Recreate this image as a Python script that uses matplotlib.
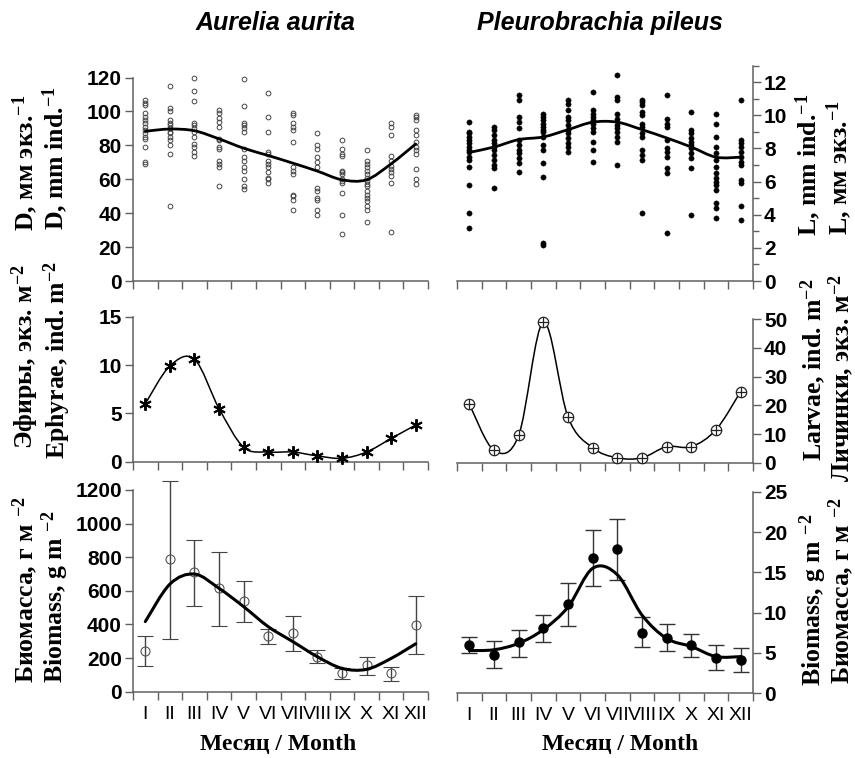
import matplotlib
matplotlib.use("Agg")
import matplotlib.pyplot as plt
from matplotlib.path import Path
from matplotlib.patches import PathPatch
from matplotlib.ticker import MultipleLocator

plt.rcParams['mathtext.fontset'] = 'custom'
plt.rcParams['mathtext.rm'] = 'Liberation Serif:bold'
plt.rcParams['mathtext.default'] = 'rm'

# ---------------- data ----------------
months = ["I", "II", "III", "IV", "V", "VI", "VII", "VIII", "IX", "X", "XI", "XII"]

# Aurelia aurita, diameter D (mm) - individual measurements per month
aurelia_D = [
    [107, 105, 104, 99, 97, 95, 93, 91, 89, 87, 85, 84, 79, 70, 69],
    [115, 102, 100, 95, 93, 92, 90, 88, 87, 85, 83, 80, 75, 44],
    [120, 112, 106, 93, 92, 90, 88, 85, 81, 79, 76, 74],
    [101, 99, 96, 94, 91, 84, 83, 79, 78, 71, 69, 67, 56],
    [119, 103, 93, 92, 90, 88, 78, 73, 71, 67, 65, 60, 56, 54],
    [111, 97, 88, 76, 75, 71, 69, 67, 64, 61, 60, 58],
    [99, 98, 93, 91, 89, 82, 67, 65, 63, 51, 50, 48, 42],
    [87, 80, 78, 73, 70, 67, 55, 53, 49, 48, 42, 39],
    [83, 78, 75, 74, 65, 64, 63, 60, 59, 58, 52, 39, 28],
    [77, 71, 69, 67, 65, 63, 61, 59, 57, 56, 53, 51, 49, 47, 44, 42, 35],
    [93, 91, 86, 74, 71, 68, 66, 64, 62, 58, 29],
    [98, 97, 95, 89, 86, 82, 79, 77, 75, 66, 60, 57],
]
aurelia_D_trend = [88.3, 89.6, 88.6, 83.8, 78.3, 74.0, 69.5, 64.8, 59.7, 59.7, 69.1, 80.8]

# Pleurobrachia pileus, length L (mm)
pleuro_L = [
    [9.6, 9.0, 8.9, 8.7, 8.5, 8.3, 8.1, 7.9, 7.8, 7.5, 7.3, 6.9, 5.8, 4.1, 3.2],
    [9.3, 9.1, 8.8, 8.5, 8.3, 8.1, 7.9, 7.6, 7.3, 7.0, 6.8, 5.6],
    [11.2, 10.9, 9.9, 9.6, 9.2, 8.5, 8.2, 7.9, 7.7, 7.4, 7.1, 6.6],
    [10.1, 9.9, 9.7, 9.5, 9.3, 9.1, 9.0, 8.7, 8.2, 7.9, 7.1, 6.3, 2.3, 2.2],
    [10.9, 10.7, 10.3, 9.9, 9.7, 9.4, 9.1, 8.9, 8.6, 8.3, 8.1, 7.8],
    [11.4, 10.3, 10.1, 9.9, 9.7, 9.5, 9.2, 9.0, 8.4, 7.9, 7.2],
    [12.4, 11.1, 10.9, 10.1, 9.8, 9.4, 9.2, 9.0, 8.7, 8.4, 7.0],
    [10.9, 10.8, 10.6, 10.2, 10.0, 9.5, 9.3, 8.9, 8.7, 7.9, 7.6, 7.3, 4.1],
    [11.2, 9.8, 9.5, 9.3, 8.5, 8.0, 7.8, 7.5, 6.8, 6.5, 2.9],
    [10.2, 9.1, 8.9, 8.6, 8.4, 8.2, 8.0, 7.7, 7.4, 6.8, 4.0],
    [10.1, 9.5, 8.7, 8.1, 7.7, 7.3, 6.9, 6.5, 6.2, 6.0, 5.8, 5.5, 4.7, 4.4, 3.8],
    [10.9, 8.5, 8.3, 8.1, 7.8, 7.5, 7.2, 7.0, 6.1, 5.9, 4.5, 3.7],
]
pleuro_L_trend = [7.76, 8.08, 8.53, 8.69, 9.13, 9.58, 9.58, 9.13, 8.63, 8.08, 7.47, 7.47]

# abundance
ephyrae = [6.0, 9.9, 10.6, 5.5, 1.5, 1.0, 1.0, 0.6, 0.35, 1.0, 2.4, 3.8]
larvae = [20.4, 4.3, 9.5, 49.0, 15.9, 5.2, 1.7, 1.7, 5.6, 5.6, 11.5, 24.8]

# biomass
aurelia_bio = [244, 790, 710, 615, 540, 331, 347, 208, 113, 159, 109, 397]
aurelia_bio_low = [153, 313, 510, 393, 413, 284, 242, 169, 73, 99, 65, 224]
aurelia_bio_high = [331, 1254, 903, 829, 659, 373, 450, 248, 143, 208, 149, 569]
aurelia_bio_trend = [417, 640, 700, 615, 506, 387, 298, 208, 139, 133, 198, 285]

pleuro_bio = [6.0, 4.8, 6.4, 8.1, 11.1, 16.8, 17.9, 7.5, 6.9, 6.0, 4.4, 4.1]
pleuro_bio_low = [5.0, 3.1, 4.5, 6.4, 8.4, 13.3, 14.1, 5.7, 5.3, 4.5, 2.9, 2.6]
pleuro_bio_high = [7.0, 6.5, 7.9, 9.7, 13.7, 20.2, 21.6, 9.4, 8.6, 7.4, 6.0, 5.6]
pleuro_bio_trend = [5.3, 5.4, 6.2, 7.9, 10.7, 15.5, 14.7, 9.7, 6.8, 5.8, 4.55, 4.55]

# ---------------- helpers ----------------
W, H = 855, 758
xc = [i + 0.5 for i in range(len(months))]
SPINE = '#606060'
SANS = ['Liberation Sans', 'DejaVu Sans']
SERIF = ['Liberation Serif', 'DejaVu Serif']


def smooth_path(x, y):
    n = len(x)
    verts = [(x[0], y[0])]
    codes = [Path.MOVETO]
    for i in range(n - 1):
        i0 = max(i - 1, 0)
        i3 = min(i + 2, n - 1)
        c1 = (x[i] + (x[i + 1] - x[i0]) / 6.0, y[i] + (y[i + 1] - y[i0]) / 6.0)
        c2 = (x[i + 1] - (x[i3] - x[i]) / 6.0, y[i + 1] - (y[i3] - y[i]) / 6.0)
        verts += [c1, c2, (x[i + 1], y[i + 1])]
        codes += [Path.CURVE4] * 3
    return Path(verts, codes)


def add_curve(ax, x, y, lw):
    ax.add_patch(PathPatch(smooth_path(x, y), fill=False, ec='black', lw=lw,
                           capstyle='round', joinstyle='round', zorder=4))


def box(l, t, r, b):
    return [l / W, 1 - b / H, (r - l) / W, (b - t) / H]


def style(ax, side, ylim, major, minor=None, xlabels=False):
    ax.set_xlim(0, 12)
    ax.set_ylim(*ylim)
    ax.set_xticks(range(13))
    ax.set_xticklabels([])
    if xlabels:
        ax.set_xticks(xc, minor=True)
        ax.set_xticklabels(months, minor=True, fontfamily=SANS, fontsize=14)
        ax.tick_params(axis='x', which='minor', length=0, pad=10)
    ax.yaxis.set_major_locator(MultipleLocator(major))
    if minor:
        ax.yaxis.set_minor_locator(MultipleLocator(minor))
    ax.spines['top'].set_visible(False)
    if side == 'left':
        ax.spines['right'].set_visible(False)
    else:
        ax.spines['left'].set_visible(False)
        ax.yaxis.tick_right()
    for s in ax.spines.values():
        s.set_color(SPINE)
        s.set_linewidth(1.1)
    ax.tick_params(axis='both', which='major', direction='out', length=6,
                   width=1.0, color=SPINE, labelsize=15, pad=2)
    ax.tick_params(axis='y', which='minor', direction='out', length=4,
                   width=1.0, color=SPINE)
    for lab in ax.get_yticklabels():
        lab.set_fontfamily(SANS)
        lab.set_fontweight('bold')
    ax.set_facecolor('none')


fig = plt.figure(figsize=(W / 100, H / 100), dpi=100)

ax_tl = fig.add_axes(box(133, 77.5, 428, 281))
ax_tr = fig.add_axes(box(457, 65.5, 753, 281))
ax_ml = fig.add_axes(box(133, 316.7, 428, 461.7))
ax_mr = fig.add_axes(box(457, 319.3, 753, 462.7))
ax_bl = fig.add_axes(box(133, 490, 428, 691.7))
ax_br = fig.add_axes(box(457, 491.7, 753, 693.3))

# top-left: Aurelia D
for x, vals in zip(xc, aurelia_D):
    ax_tl.plot([x] * len(vals), vals, ls='none', marker='o', ms=3.4, mfc='none',
               mec='#444444', mew=0.7, clip_on=False, zorder=3)
add_curve(ax_tl, xc, aurelia_D_trend, 2.0)
style(ax_tl, 'left', (0, 120), 20)

# top-right: Pleurobrachia L
for x, vals in zip(xc, pleuro_L):
    ax_tr.plot([x] * len(vals), vals, ls='none', marker='o', ms=3.8, mfc='black',
               mec='black', mew=0.3, clip_on=False, zorder=3)
add_curve(ax_tr, xc, pleuro_L_trend, 2.0)
style(ax_tr, 'right', (0, 13), 2, 1)

# middle-left: Ephyrae
add_curve(ax_ml, xc, ephyrae, 1.1)
ax_ml.plot(xc, ephyrae, ls='none', marker=(6, 2, 0), ms=9, mec='black', mew=1.4,
           clip_on=False, zorder=5)
style(ax_ml, 'left', (0, 15), 5)

# middle-right: Larvae
add_curve(ax_mr, xc, larvae, 1.1)
ax_mr.plot(xc, larvae, ls='none', marker='o', ms=7.5, mfc='white', mec='#222222',
           mew=0.9, clip_on=False, zorder=5)
ax_mr.plot(xc, larvae, ls='none', marker='+', ms=7.5, mec='#222222', mew=0.9,
           clip_on=False, zorder=6)
style(ax_mr, 'right', (0, 50), 10)

# bottom-left: Aurelia biomass
err_bl = [[m - lo for m, lo in zip(aurelia_bio, aurelia_bio_low)],
          [hi - m for m, hi in zip(aurelia_bio, aurelia_bio_high)]]
eb = ax_bl.errorbar(xc, aurelia_bio, yerr=err_bl, fmt='o', ms=6.5, mfc='none',
                    mec='#555555', mew=0.8, ecolor='#444444', elinewidth=1.0,
                    capsize=5.5, capthick=1.0, zorder=3)
eb.lines[0].set_clip_on(False)
for art in list(eb.lines[1]) + list(eb.lines[2]):
    art.set_clip_on(False)
add_curve(ax_bl, xc, aurelia_bio_trend, 2.2)
style(ax_bl, 'left', (0, 1200), 200, xlabels=True)

# bottom-right: Pleurobrachia biomass
err_br = [[m - lo for m, lo in zip(pleuro_bio, pleuro_bio_low)],
          [hi - m for m, hi in zip(pleuro_bio, pleuro_bio_high)]]
eb2 = ax_br.errorbar(xc, pleuro_bio, yerr=err_br, fmt='o', ms=6.5, mfc='black',
                     mec='black', ecolor='#333333', elinewidth=1.0,
                     capsize=5.5, capthick=1.0, zorder=3)
add_curve(ax_br, xc, pleuro_bio_trend, 2.2)
style(ax_br, 'right', (0, 25), 5, xlabels=True)

# titles
fig.text(275 / W, 1 - 23 / H, 'Aurelia aurita', ha='center', va='center',
         fontfamily=SANS, fontweight='bold', fontstyle='italic', fontsize=18)
fig.text(600 / W, 1 - 23 / H, 'Pleurobrachia pileus', ha='center', va='center',
         fontfamily=SANS, fontweight='bold', fontstyle='italic', fontsize=18)

# x labels
for cx in (278, 620):
    fig.text(cx / W, 1 - 744 / H, 'Месяц / Month', ha='center', va='center',
             fontfamily=SERIF, fontweight='bold', fontsize=17)


def ylab(x, y, s, size=18.5):
    fig.text(x / W, 1 - y / H, s, rotation=90, ha='center', va='center',
             fontfamily=SERIF, fontweight='bold', fontsize=size)


# left labels
ylab(25, 163, r'D, мм экз.$^{-1}$')
ylab(55, 158, r'D, mm ind.$^{-1}$')
ylab(25, 357, r'Эфиры, экз. м$^{-2}$')
ylab(57, 360, r'Ephyrae, ind. m$^{-2}$')
ylab(25, 590, r'Биомасса, г м $^{-2}$')
ylab(55, 597, r'Biomass, g m $^{-2}$')

# right labels
ylab(808, 165, r'L, mm ind.$^{-1}$')
ylab(839, 168, r'L, мм экз.$^{-1}$')
ylab(813, 370, r'Larvae, ind. m$^{-2}$')
ylab(841, 378, r'Личинки, экз. м$^{-2}$')
ylab(813, 600, r'Biomass, g m $^{-2}$')
ylab(841, 591, r'Биомасса, г м $^{-2}$')

fig.savefig('out.png', dpi=100)
